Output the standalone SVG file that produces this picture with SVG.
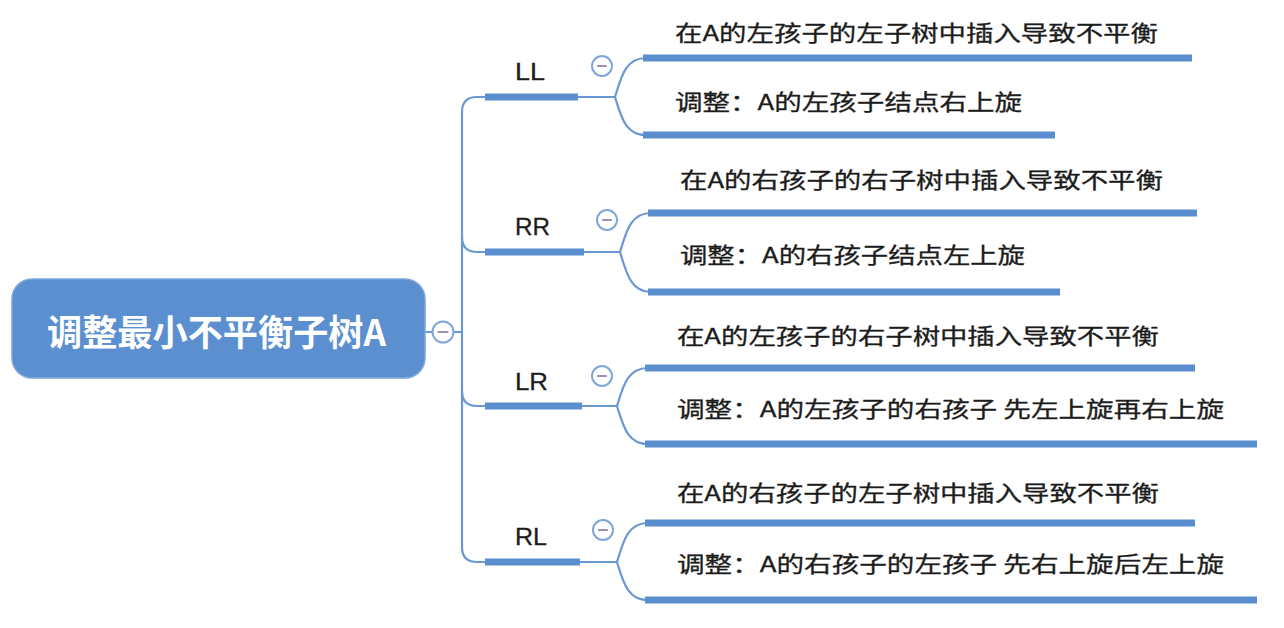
<svg xmlns="http://www.w3.org/2000/svg" width="1284" height="628" viewBox="0 0 1284 628">
<style>
.thin{fill:none;stroke:#6a98d4;stroke-width:2.2;stroke-linecap:round}
.bar{fill:none;stroke:#5b8ecf;stroke-width:7;stroke-linecap:butt}
.tog circle{fill:#fff;stroke:#7fa6db;stroke-width:2}
.tog line{stroke:#9c90b0;stroke-width:2.2;stroke-linecap:round}
.leaf{font-family:"Noto Sans CJK SC","Noto Sans",sans-serif;font-size:22px;fill:#1c1c1c;stroke:#1c1c1c;stroke-width:0.3}
.lab{font-family:"Liberation Sans","Noto Sans",sans-serif;font-size:24px;fill:#1c1c1c;stroke:#1c1c1c;stroke-width:0.3}
.root{font-family:"Noto Sans CJK SC","Noto Sans",sans-serif;font-size:36px;font-weight:bold;fill:#fff}
</style>
<rect width="1284" height="628" fill="#fff"/>
<g id="connectors">
<path class="thin" d="M425,332 L462,332"/>
<path class="thin" d="M487,97 L477,97 Q462,97 462,112 L462,547 Q462,562 477,562 L487,562"/>
<path class="thin" d="M462,237 Q462,252 477,252 L487,252"/>
<path class="thin" d="M462,391 Q462,406 477,406 L487,406"/>
<path class="thin" d="M578,97 L615,97 M615,97 C621,78 625,58 646,58 M615,97 C621,116 625,135 646,135"/>
<path class="thin" d="M584,252 L620,252 M620,252 C626,233 630,213 651,213 M620,252 C626,271 630,292 651,292"/>
<path class="thin" d="M582,406 L617,406 M617,406 C623,387 627,368 648,368 M617,406 C623,425 627,444 648,444"/>
<path class="thin" d="M580,562 L617,562 M617,562 C623,543 627,523 648,523 M617,562 C623,581 627,600 648,600"/>
</g>
<g id="root">
<rect x="12" y="279" width="413" height="99" rx="20" fill="#5b8fd0" stroke="#7ea7dc" stroke-width="1.5"/>
<text class="root" x="47" y="346" textLength="339" lengthAdjust="spacingAndGlyphs">调整最小不平衡子树A</text>
<g class="tog"><circle cx="443" cy="332" r="10.5"/><line x1="438.5" y1="332" x2="447.5" y2="332"/></g>
</g>
<g id="LL">
<path class="bar" d="M485,97 L578,97"/>
<text class="lab" x="515" y="80" textLength="30" lengthAdjust="spacingAndGlyphs">LL</text>
<g class="tog"><circle cx="602" cy="66" r="10"/><line x1="598" y1="66" x2="606" y2="66"/></g>
</g>
<g id="LL-1"><path class="bar" d="M643,58 L1192,58"/><text class="leaf" x="675" y="41" textLength="483" lengthAdjust="spacingAndGlyphs">在A的左孩子的左子树中插入导致不平衡</text></g>
<g id="LL-2"><path class="bar" d="M643,135 L1055,135"/><text class="leaf" x="675" y="110" textLength="347" lengthAdjust="spacingAndGlyphs">调整：A的左孩子结点右上旋</text></g>
<g id="RR">
<path class="bar" d="M485,252 L584,252"/>
<text class="lab" x="515" y="235" textLength="35" lengthAdjust="spacingAndGlyphs">RR</text>
<g class="tog"><circle cx="607" cy="220" r="10"/><line x1="603" y1="220" x2="611" y2="220"/></g>
</g>
<g id="RR-1"><path class="bar" d="M648,213 L1197,213"/><text class="leaf" x="680" y="188" textLength="483" lengthAdjust="spacingAndGlyphs">在A的右孩子的右子树中插入导致不平衡</text></g>
<g id="RR-2"><path class="bar" d="M648,292 L1060,292"/><text class="leaf" x="680" y="263" textLength="345" lengthAdjust="spacingAndGlyphs">调整：A的右孩子结点左上旋</text></g>
<g id="LR">
<path class="bar" d="M485,406 L582,406"/>
<text class="lab" x="515" y="390" textLength="33" lengthAdjust="spacingAndGlyphs">LR</text>
<g class="tog"><circle cx="602" cy="376" r="10"/><line x1="598" y1="376" x2="606" y2="376"/></g>
</g>
<g id="LR-1"><path class="bar" d="M645,368 L1195,368"/><text class="leaf" x="677" y="344" textLength="482" lengthAdjust="spacingAndGlyphs">在A的左孩子的右子树中插入导致不平衡</text></g>
<g id="LR-2"><path class="bar" d="M645,444 L1257,444"/><text class="leaf" x="677" y="417" textLength="547" lengthAdjust="spacingAndGlyphs">调整：A的左孩子的右孩子 先左上旋再右上旋</text></g>
<g id="RL">
<path class="bar" d="M485,562 L580,562"/>
<text class="lab" x="515" y="545" textLength="32" lengthAdjust="spacingAndGlyphs">RL</text>
<g class="tog"><circle cx="603" cy="530" r="10"/><line x1="599" y1="530" x2="607" y2="530"/></g>
</g>
<g id="RL-1"><path class="bar" d="M645,523 L1195,523"/><text class="leaf" x="677" y="501" textLength="482" lengthAdjust="spacingAndGlyphs">在A的右孩子的左子树中插入导致不平衡</text></g>
<g id="RL-2"><path class="bar" d="M645,600 L1257,600"/><text class="leaf" x="677" y="572" textLength="547" lengthAdjust="spacingAndGlyphs">调整：A的右孩子的左孩子 先右上旋后左上旋</text></g>
</svg>
